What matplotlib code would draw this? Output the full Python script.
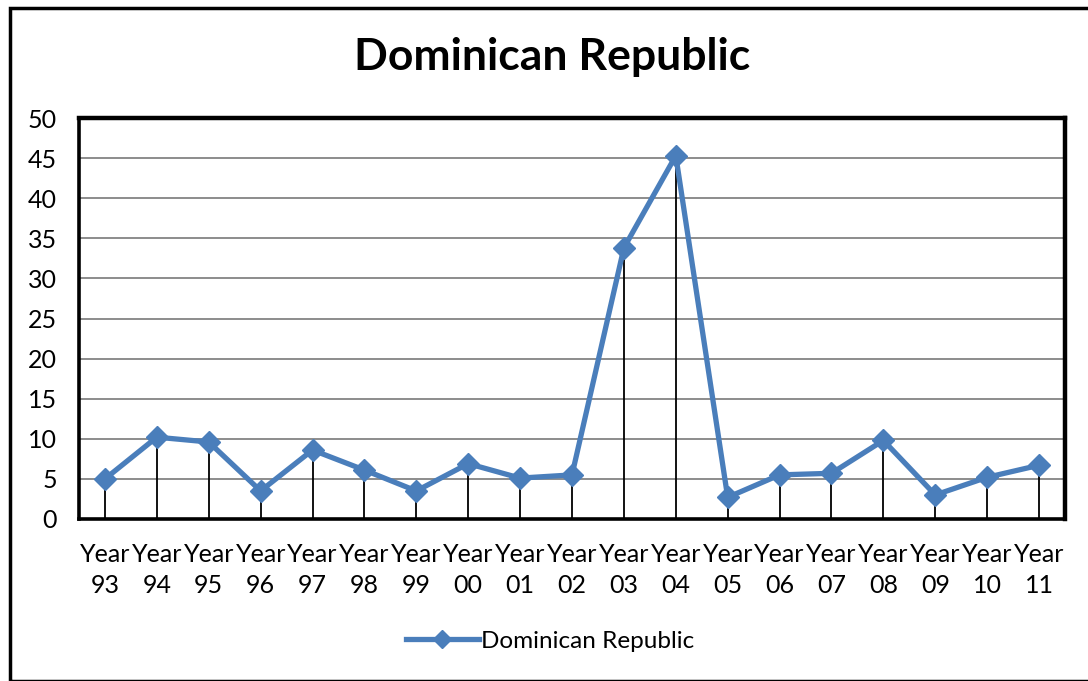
import matplotlib
matplotlib.use("Agg")
import matplotlib.pyplot as plt
from matplotlib.patches import Rectangle

years = ["93", "94", "95", "96", "97", "98", "99", "00", "01", "02",
         "03", "04", "05", "06", "07", "08", "09", "10", "11"]
values = [5.0, 10.2, 9.6, 3.5, 8.6, 6.1, 3.5, 6.9, 5.1, 5.5,
          33.8, 45.3, 2.7, 5.5, 5.7, 9.8, 3.0, 5.2, 6.7]
series_name = "Dominican Republic"
y_ticks = [0, 5, 10, 15, 20, 25, 30, 35, 40, 45, 50]

plt.rcParams['font.family'] = ['Lato', 'DejaVu Sans']

W, H = 1088, 681
fig = plt.figure(figsize=(W / 100, H / 100), dpi=100)
fig.patch.set_facecolor("white")

# chart frame
fig.patches.append(Rectangle((10 / W, 0.5 / H), (W + 20) / W, (H - 8.5) / H,
                             transform=fig.transFigure, fill=False,
                             edgecolor="black", linewidth=2.5, zorder=0))

left, right, top, bottom = 79, 1065, 118, 519
ax = fig.add_axes([left / W, 1 - bottom / H, (right - left) / W, (bottom - top) / H])

x = list(range(len(years)))
ax.set_xlim(-0.5, len(years) - 0.5)
ax.set_ylim(0, 50)

for yv in y_ticks[1:-1]:
    ax.axhline(yv, color="#8c8c8c", linewidth=1.4, zorder=1)

ax.vlines(x, 0, values, colors="black", linewidth=1.3, zorder=2)
line, = ax.plot(x, values, color="#4A7EBB", linewidth=3.8, marker="D",
                markersize=11, markerfacecolor="#4A7EBB",
                markeredgecolor="#4A7EBB", zorder=3, label=series_name)

ax.set_yticks(y_ticks)
ax.set_yticklabels([str(v) for v in y_ticks], fontsize=18)
ax.set_xticks(x)
ax.set_xticklabels([f"Year\n{y}" for y in years], fontsize=18, linespacing=1.42)
ax.tick_params(axis="both", length=0)
ax.tick_params(axis="x", pad=17)
ax.tick_params(axis="y", pad=16)

for side in ["top", "right"]:
    ax.spines[side].set_linewidth(3.2)
for side in ["left", "bottom"]:
    ax.spines[side].set_linewidth(2.6)
for s in ax.spines.values():
    s.set_color("black")
    s.set_zorder(4)

fig.text(552 / W, 1 - 57 / H, "Dominican Republic", ha="center", va="center",
         fontsize=32, fontweight="bold")

leg = fig.legend(handles=[line], loc="center", bbox_to_anchor=(550 / W, 1 - 641 / H),
                 frameon=False, fontsize=17.5, handlelength=3.0, handletextpad=0.1,
                 markerscale=0.8)

fig.savefig("out.png", dpi=100, facecolor="white")
